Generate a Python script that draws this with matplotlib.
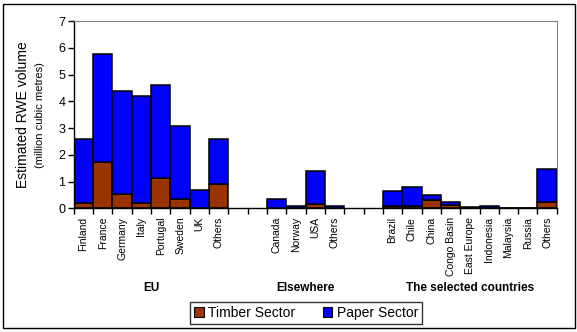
import matplotlib.pyplot as plt
from matplotlib.patches import Rectangle
import numpy as np

plt.rcParams['font.family'] = ['Liberation Sans', 'DejaVu Sans']

# data (million cubic metres)
eu_names = ['Finland', 'France', 'Germany', 'Italy', 'Portugal', 'Sweden', 'UK', 'Others']
eu_timber = [0.22, 1.72, 0.56, 0.22, 1.15, 0.37, 0.0, 0.90]
eu_total = [2.58, 5.78, 4.38, 4.19, 4.60, 3.07, 0.71, 2.58]

else_names = ['Canada', 'Norway', 'USA', 'Others']
else_timber = [0.0, 0.0, 0.15, 0.02]
else_total = [0.37, 0.11, 1.42, 0.11]

sel_names = ['Brazil', 'Chile', 'China', 'Congo Basin', 'East Europe', 'Indonesia',
             'Malaysia', 'Russia', 'Others']
sel_timber = [0.10, 0.10, 0.32, 0.14, 0.03, 0.0, 0.0, 0.0, 0.26]
sel_total = [0.67, 0.82, 0.49, 0.24, 0.04, 0.11, 0.0, 0.0, 1.46]

group_names = ['EU', 'Elsewhere', 'The selected countries']

timber_col = '#993300'
paper_col = '#0000FF'

# lay the groups out with two empty slots between them
groups = [(eu_names, eu_timber, eu_total),
          (else_names, else_timber, else_total),
          (sel_names, sel_timber, sel_total)]
names, timber, total, centres, x_all = [], [], [], [], []
start = 0
for n, t, tot in groups:
    pos = list(range(start, start + len(n)))
    names += n
    timber += t
    total += tot
    x_all += pos
    centres.append((pos[0] + pos[-1]) / 2)
    start = pos[-1] + 3
nslots = start - 2
x_all = np.array(x_all)
timber = np.array(timber)
paper = np.array(total) - timber

fig = plt.figure(figsize=(5.77, 3.32), dpi=100)
ax = fig.add_axes([0.128, 0.372, 0.837, 0.564])

ax.bar(x_all, timber, width=1.0, color=timber_col, edgecolor='black', linewidth=1.1,
       label='Timber Sector')
ax.bar(x_all, paper, width=1.0, bottom=timber, color=paper_col, edgecolor='black',
       linewidth=1.1, label='Paper Sector')

ax.set_xlim(-0.5, nslots - 0.5)
ax.set_ylim(0, 7)
ax.set_yticks(range(8))
ax.tick_params(axis='y', labelsize=9, length=4, width=1, pad=2)

ax.set_xticks(x_all)
ax.set_xticklabels(names, rotation=90, fontsize=7.5, va='top')
ax.set_xticks(np.arange(-0.5, nslots, 1.0), minor=True)
ax.tick_params(axis='x', which='major', length=0, pad=6)
ax.tick_params(axis='x', which='minor', length=4, width=1)

ax.spines['top'].set_color('#808080')
ax.spines['right'].set_color('#808080')
ax.spines['left'].set_linewidth(1)
ax.spines['bottom'].set_linewidth(1)

fig.text(23 / 577, 1 - 115 / 332, 'Estimated RWE volume', rotation=90,
         ha='center', va='center', fontsize=10)
fig.text(40 / 577, 1 - 115 / 332, '(million cubic metres)', rotation=90,
         ha='center', va='center', fontsize=8)

for c, g in zip(centres, group_names):
    xf = ax.transData.transform((c, 0))[0] / fig.bbox.width
    fig.text(xf, 1 - 288 / 332, g, ha='center', va='center', fontsize=8.5,
             fontweight='bold')

leg = fig.legend(loc='center', bbox_to_anchor=(306 / 577, 1 - 313 / 332), ncol=2,
                 fontsize=10, frameon=True, fancybox=False, edgecolor='black',
                 handlelength=0.7, handleheight=0.7, handletextpad=0.3,
                 columnspacing=2.0, borderpad=0.3)
leg.get_frame().set_linewidth(1)
for h in leg.legend_handles:
    h.set_linewidth(0.8)

# outer border of the chart
fig.patches.append(Rectangle((3 / 577, 4 / 332), 572 / 577, 324 / 332,
                             transform=fig.transFigure, fill=False,
                             edgecolor='black', linewidth=1))

fig.savefig('out.png', dpi=100)
